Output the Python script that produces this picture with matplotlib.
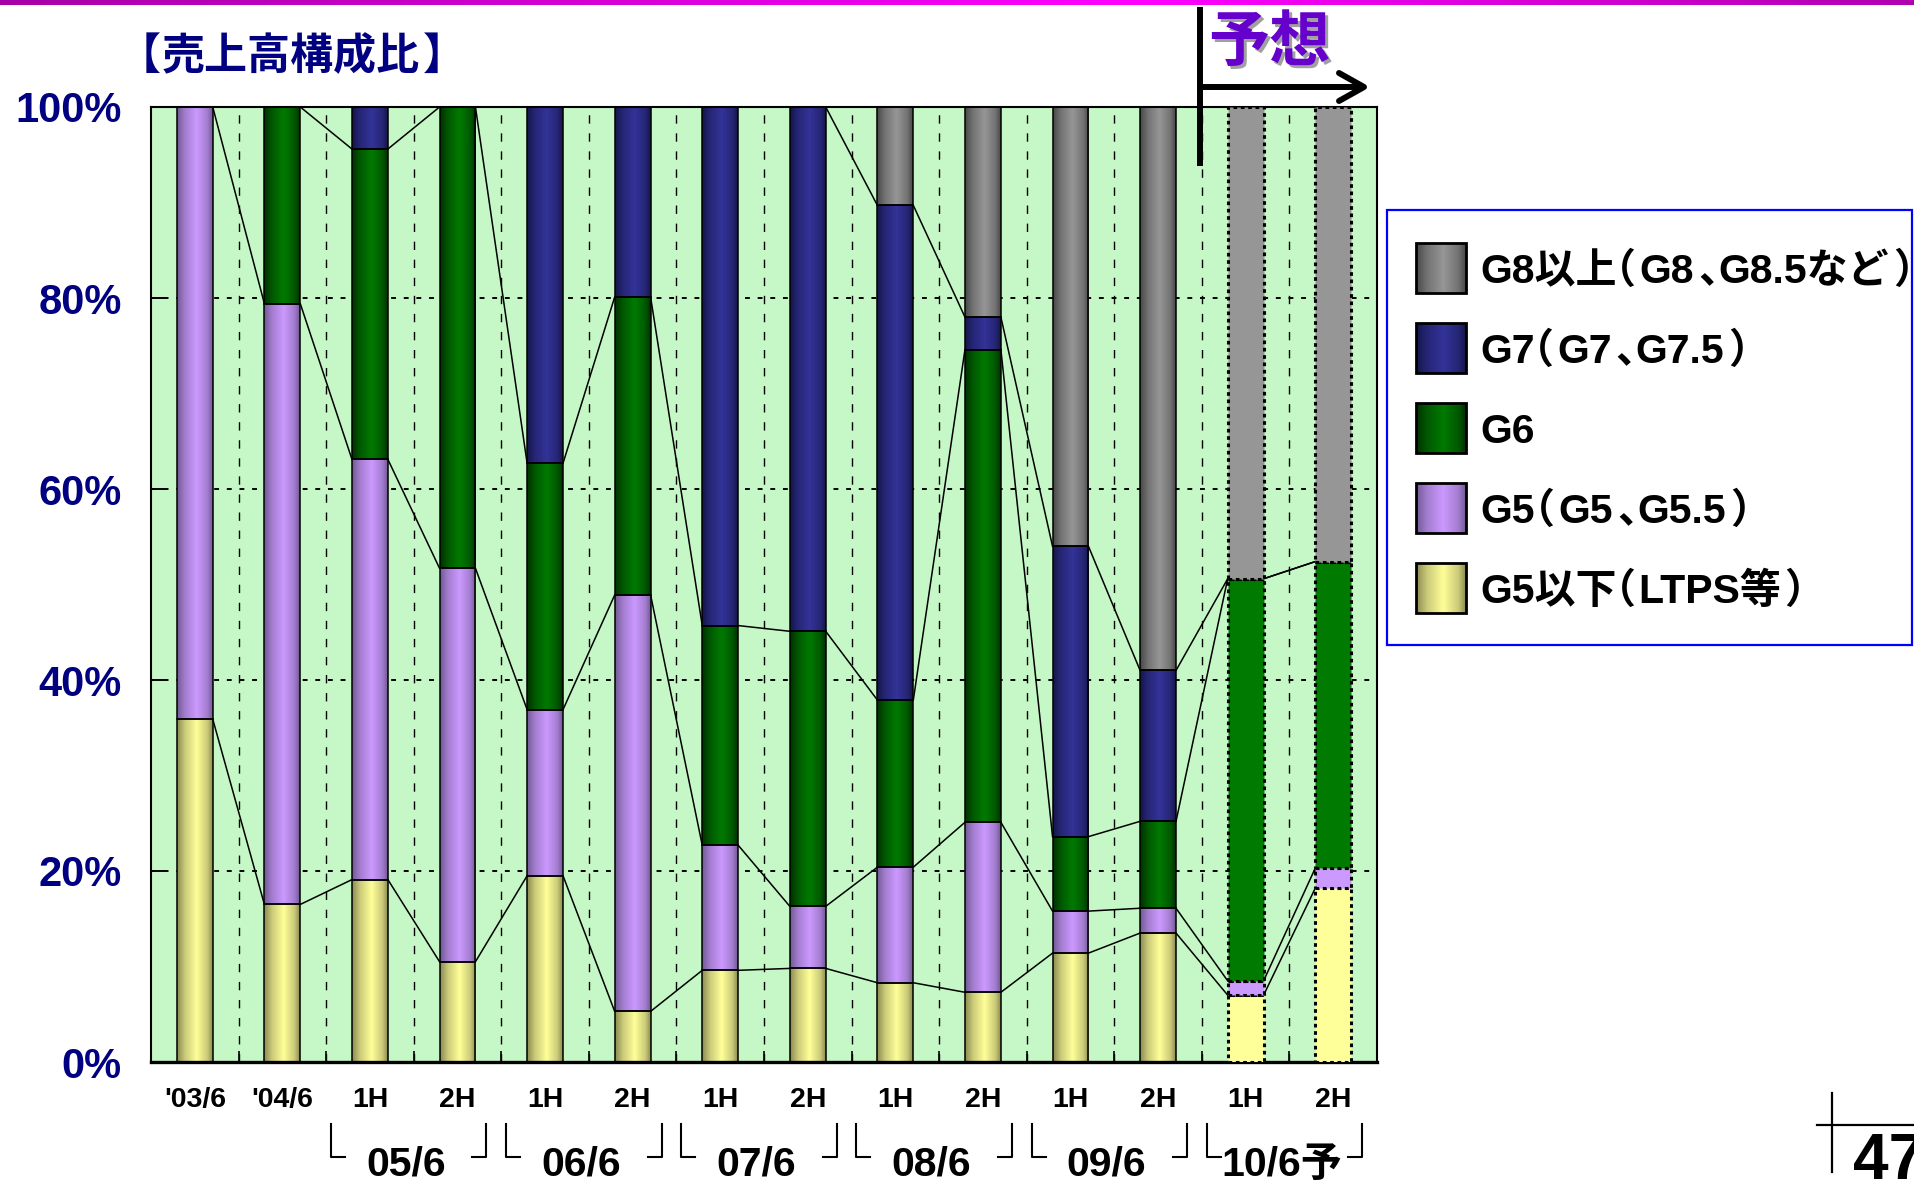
import re
import numpy as np
import matplotlib
matplotlib.use('Agg')
import matplotlib.pyplot as plt
from matplotlib.colors import LinearSegmentedColormap, to_rgb
from matplotlib.patches import Rectangle
from matplotlib.textpath import TextPath
from matplotlib.font_manager import FontProperties
from matplotlib import transforms

# x axis periods
periods = ["'03/6", "'04/6", "1H", "2H", "1H", "2H", "1H", "2H",
           "1H", "2H", "1H", "2H", "1H", "2H"]
fiscal_groups = ["05/6", "06/6", "07/6", "08/6", "09/6", "10/6予"]
group_start = [2, 4, 6, 8, 10, 12]   # first bar of each half-year pair
forecast_from = 12                   # bars from here on are forecasts

# share of sales by substrate generation (%)
g5_below = [35.9, 16.5, 19.1, 10.5, 19.5, 5.3, 9.6, 9.8, 8.3, 7.3, 11.4, 13.5, 7.0, 18.2]
g5 = [64.1, 62.9, 44.0, 41.2, 17.4, 43.6, 13.1, 6.5, 12.1, 17.8, 4.4, 2.6, 1.5, 2.1]
g6 = [0.0, 20.6, 32.5, 48.3, 25.8, 31.2, 23.0, 28.8, 17.5, 49.5, 7.8, 9.1, 42.1, 32.1]
g7 = [0.0, 0.0, 4.4, 0.0, 37.3, 19.9, 54.3, 54.9, 51.8, 3.4, 30.4, 15.8, 0.0, 0.0]
g8 = [0.0, 0.0, 0.0, 0.0, 0.0, 0.0, 0.0, 0.0, 10.3, 22.0, 46.0, 59.0, 49.4, 47.6]

yticks = [0, 20, 40, 60, 80, 100]

# (values, legend text, face colour, shaded edge colour), bottom to top
series = [
    (g5_below, 'G5以下（LTPS等）', '#FFFF99', '#8A8A52'),
    (g5, 'G5（G5、G5.5）', '#CC99FF', '#715A94'),
    (g6, 'G6', '#007A00', '#003000'),
    (g7, 'G7（G7、G7.5）', '#333399', '#15154A'),
    (g8, 'G8以上（G8、G8.5など）', '#969696', '#484848'),
]

FONTS = ['Liberation Sans', 'Noto Sans CJK JP']
plt.rcParams['font.family'] = FONTS
plt.rcParams['font.weight'] = 'bold'

W, H = 1915, 1181
fig = plt.figure(figsize=(W / 100, H / 100), dpi=100)
fig.patch.set_facecolor('white')

ax = fig.add_axes([151 / W, 1 - 1062 / H, 1226 / W, 955 / H])
ov = fig.add_axes([0, 0, 1, 1])
ov.set_xlim(0, W)
ov.set_ylim(H, 0)
ov.axis('off')
ov.set_zorder(5)

ramp = np.linspace(0, 1, 128)[None, :]


def shade(face, edge):
    f, e = np.array(to_rgb(face)), np.array(to_rgb(edge))
    mid = 0.45 * e + 0.55 * f
    return LinearSegmentedColormap.from_list(
        '', [(0, e), (0.22, mid), (0.55, f), (0.85, mid), (1, e)])


n = len(periods)
x = np.arange(n)
bw = 0.41
hist = x < forecast_from

ax.set_facecolor('#C6F7C6')
bottom = np.zeros(n)
tops = []
for vals, label, face, edge in series:
    vals = np.array(vals)
    cm = shade(face, edge)
    for i in x[hist]:
        if vals[i] > 0:
            ax.imshow(ramp, cmap=cm, aspect='auto', interpolation='bilinear',
                      extent=(i - bw / 2, i + bw / 2, bottom[i], bottom[i] + vals[i]),
                      zorder=2)
    ax.bar(x[hist], vals[hist], bw, bottom=bottom[hist], facecolor='none',
           edgecolor='black', lw=1.1, zorder=3)
    ax.bar(x[~hist], vals[~hist], bw, bottom=bottom[~hist], color=face,
           edgecolor='black', lw=2.2, ls=(0, (1.2, 1.2)), zorder=3)
    bottom = bottom + vals
    tops.append(bottom.copy())

# series lines joining segment tops of neighbouring bars
for top in tops:
    for i in range(n - 1):
        ax.plot([i + bw / 2, i + 1 - bw / 2], [top[i], top[i + 1]],
                color='black', lw=1.1, zorder=2.5)

ax.set_axisbelow(True)
ax.set_yticks(yticks)
ax.set_yticklabels([f'{v}%' for v in yticks])
ax.yaxis.grid(True, color='black', lw=1.4, ls=(0, (2.5, 4)))
ax.set_xticks(x)
ax.set_xticklabels(periods)
ax.set_xticks(np.arange(0.5, n - 1, 1), minor=True)
ax.xaxis.grid(True, which='minor', color='black', lw=1.0, ls=(0, (6, 7)))
ax.tick_params(axis='y', direction='in', length=10, width=1.4, pad=21,
               labelsize=30, labelcolor='#000080')
ax.tick_params(axis='x', which='major', length=0, pad=18, labelsize=20.5)
ax.tick_params(axis='x', which='minor', direction='in', length=8, width=1.2)
for side in ['left', 'top', 'right']:
    ax.spines[side].set_linewidth(1.5)
ax.spines['bottom'].set_linewidth(2.4)

# fiscal year brackets under the half-year labels
row2 = transforms.blended_transform_factory(ax.transData, ov.transData)
for name, s in zip(fiscal_groups, group_start):
    xl = s - 0.5 + 0.055
    xr = s + 1.5 - 0.17
    ax.plot([xl, xl, xl + 0.16], [1124, 1157, 1157], transform=row2,
            clip_on=False, color='black', lw=1.5)
    ax.plot([xr - 0.16, xr, xr], [1157, 1157, 1124], transform=row2,
            clip_on=False, color='black', lw=1.5)
    ax.text(s + 0.5 - 0.09, 1176, name, transform=row2, ha='center',
            va='baseline', fontsize=29.5)

ax.set_xlim(-0.5, n - 0.5)
ax.set_ylim(0, 100)


def text_run(x0, y0, s, size, gap=5, **kw):
    # full-width brackets and commas carry empty space in CJK fonts,
    # so each piece is placed by its inked extent
    fp = FontProperties(family=FONTS, weight='bold', size=size)
    px = 100 / 72
    for piece in re.split('([（）、【】])', s):
        if not piece:
            continue
        ext = TextPath((0, 0), piece, prop=fp).get_extents()
        ov.text(x0 - ext.x0 * px, y0, piece, ha='left', va='baseline',
                fontproperties=fp, **kw)
        x0 += (ext.x1 - ext.x0) * px + gap


# title, forecast marker
text_run(146, 69, '【売上高構成比】', 31, gap=4, color='#000080')
ov.text(1211, 46, '予想', ha='left', va='center', fontsize=44,
        color='#A0A0A0', family=['Noto Sans CJK JP'])
ov.text(1208, 43, '予想', ha='left', va='center', fontsize=44,
        color='#6600CC', family=['Noto Sans CJK JP'])
ov.plot([1200, 1200], [7, 166], color='black', lw=4.3, solid_capstyle='butt')
ov.plot([1200, 1362], [87, 87], color='black', lw=4.3, solid_capstyle='butt')
ov.plot([1339, 1364, 1339], [73, 87, 101], color='black', lw=4.3,
        solid_capstyle='round', solid_joinstyle='round')

# legend
ov.add_patch(Rectangle((1387, 210), 525, 435, facecolor='white',
                       edgecolor='#0000FF', lw=1.6, zorder=1))
for k, (vals, label, face, edge) in enumerate(reversed(series)):
    cy = 268 + 80 * k
    ov.imshow(ramp, cmap=shade(face, edge), aspect='auto', interpolation='bilinear',
              extent=(1416, 1466, cy + 25, cy - 25), zorder=2)
    ov.add_patch(Rectangle((1416, cy - 25), 50, 50, fill=False,
                           edgecolor='black', lw=2, zorder=3))
    text_run(1482, cy + 15, label, 29.5, gap=7, color='black')

# header band and page number
band = LinearSegmentedColormap.from_list(
    '', [(0, '#A800A8'), (0.6, '#FF00FF'), (1, '#B000B0')])
ov.imshow(ramp, cmap=band, aspect='auto', extent=(0, W, 5, 0), zorder=6)
ov.plot([1832, 1832], [1093, 1172], color='black', lw=1.6)
ov.plot([1817, W], [1125, 1125], color='black', lw=1.6)
ov.text(1853, 1179, '47', ha='left', va='baseline', fontsize=46, color='black')

ov.set_xlim(0, W)
ov.set_ylim(H, 0)

fig.savefig('out.png', dpi=100)
